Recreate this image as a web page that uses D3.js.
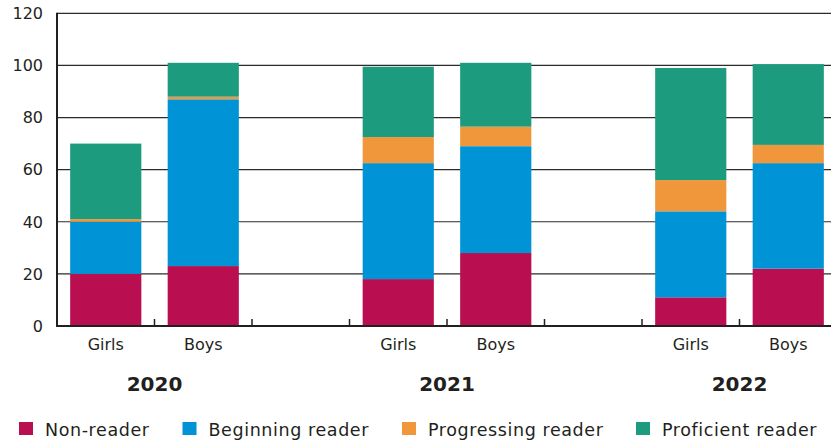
<!DOCTYPE html>
<html><head><meta charset="utf-8">
<script src="https://cdn.jsdelivr.net/npm/d3@7"></script>
<style>
html,body{margin:0;padding:0;background:#fff;}
svg{display:block;font-family:"DejaVu Sans","Noto Sans",sans-serif;}
</style></head>
<body><svg id="c" width="831" height="444"></svg>
<script>
const years = ["2020", "2021", "2022"];
const genders = ["Girls", "Boys"];
const seriesNames = ["Non-reader", "Beginning reader", "Progressing reader", "Proficient reader"];
const seriesColors = ["#b90e4f", "#0094d6", "#f0973b", "#1c9b7e"];
// order of bars: 2020 Girls, 2020 Boys, 2021 Girls, 2021 Boys, 2022 Girls, 2022 Boys
const nonReader   = [20, 23, 18, 28, 11, 22];
const beginning   = [20, 64, 44.5, 41, 33, 40.5];
const progressing = [1, 1, 10, 7.5, 12, 7];
const proficient  = [29, 13, 27, 24.5, 43, 31];
const yTicks = [0, 20, 40, 60, 80, 100, 120];

const svg = d3.select("#c");
const ink = "#231f20";

// slots: each year two bars + a spacer slot
const slots = [];
years.forEach((y, i) => {
  genders.forEach(g => slots.push(y + " " + g));
  if (i < years.length - 1) slots.push("gap" + i);
});
const rows = [];
years.forEach((y, i) => genders.forEach((g, j) => {
  const k = i * 2 + j;
  rows.push({key: y + " " + g, year: y, gender: g,
    "Non-reader": nonReader[k], "Beginning reader": beginning[k],
    "Progressing reader": progressing[k], "Proficient reader": proficient[k]});
}));

const x = d3.scaleBand().domain(slots).range([57, 837]).paddingInner(0.27).paddingOuter(0.135);
const y = d3.scaleLinear().domain([0, 120]).range([326, 13.3]);
const color = d3.scaleOrdinal().domain(seriesNames).range(seriesColors);

// gridlines
svg.append("g").selectAll("line").data(yTicks.filter(t => t > 0)).join("line")
  .attr("x1", 57).attr("x2", 831).attr("y1", d => y(d)).attr("y2", d => y(d))
  .attr("stroke", "#2b2b2b").attr("stroke-width", 1.2);

// bars
const stack = d3.stack().keys(seriesNames)(rows);
svg.append("g").selectAll("g").data(stack).join("g").attr("fill", d => color(d.key))
  .selectAll("rect").data(d => d).join("rect")
  .attr("x", d => x(d.data.key)).attr("width", x.bandwidth())
  .attr("y", d => y(d[1])).attr("height", d => y(d[0]) - y(d[1]));

// axes lines
svg.append("line").attr("x1", 57).attr("x2", 57).attr("y1", y(120) - 0.5).attr("y2", y(0) + 1)
  .attr("stroke", ink).attr("stroke-width", 2);
svg.append("line").attr("x1", 56).attr("x2", 831).attr("y1", y(0)).attr("y2", y(0))
  .attr("stroke", ink).attr("stroke-width", 2);
// x ticks at slot boundaries
const bounds = slots.map(s => x(s) - x.step() * x.paddingInner() / 2);
svg.append("g").selectAll("line").data(bounds.slice(1)).join("line")
  .attr("x1", d => d).attr("x2", d => d).attr("y1", y(0) - 7).attr("y2", y(0))
  .attr("stroke", ink).attr("stroke-width", 1.5);

// y tick labels
svg.append("g").selectAll("text").data(yTicks).join("text")
  .attr("x", 43).attr("y", d => y(d)).attr("dy", "0.36em").attr("text-anchor", "end")
  .attr("font-size", 16).attr("fill", ink).text(d => d);

// gender labels
svg.append("g").selectAll("text").data(rows).join("text")
  .attr("x", d => x(d.key) + x.bandwidth() / 2).attr("y", 350)
  .attr("text-anchor", "middle").attr("font-size", 16).attr("fill", ink)
  .text(d => d.gender);

// year labels
svg.append("g").selectAll("text").data(years).join("text")
  .attr("x", yr => (x(yr + " Girls") + x(yr + " Boys") + x.bandwidth()) / 2).attr("y", 391)
  .attr("text-anchor", "middle").attr("font-size", 20).attr("font-weight", 700).attr("fill", ink)
  .text(d => d);

// legend
const legX = [19, 182.5, 402, 636];
const lg = svg.append("g").selectAll("g").data(seriesNames).join("g")
  .attr("transform", (d, i) => `translate(${legX[i]},422)`);
lg.append("rect").attr("width", 14).attr("height", 13).attr("fill", d => color(d));
lg.append("text").attr("x", 26).attr("y", 14).attr("font-size", 17.5).attr("letter-spacing", 0.6)
  .attr("fill", ink).text(d => d);
</script></body></html>
